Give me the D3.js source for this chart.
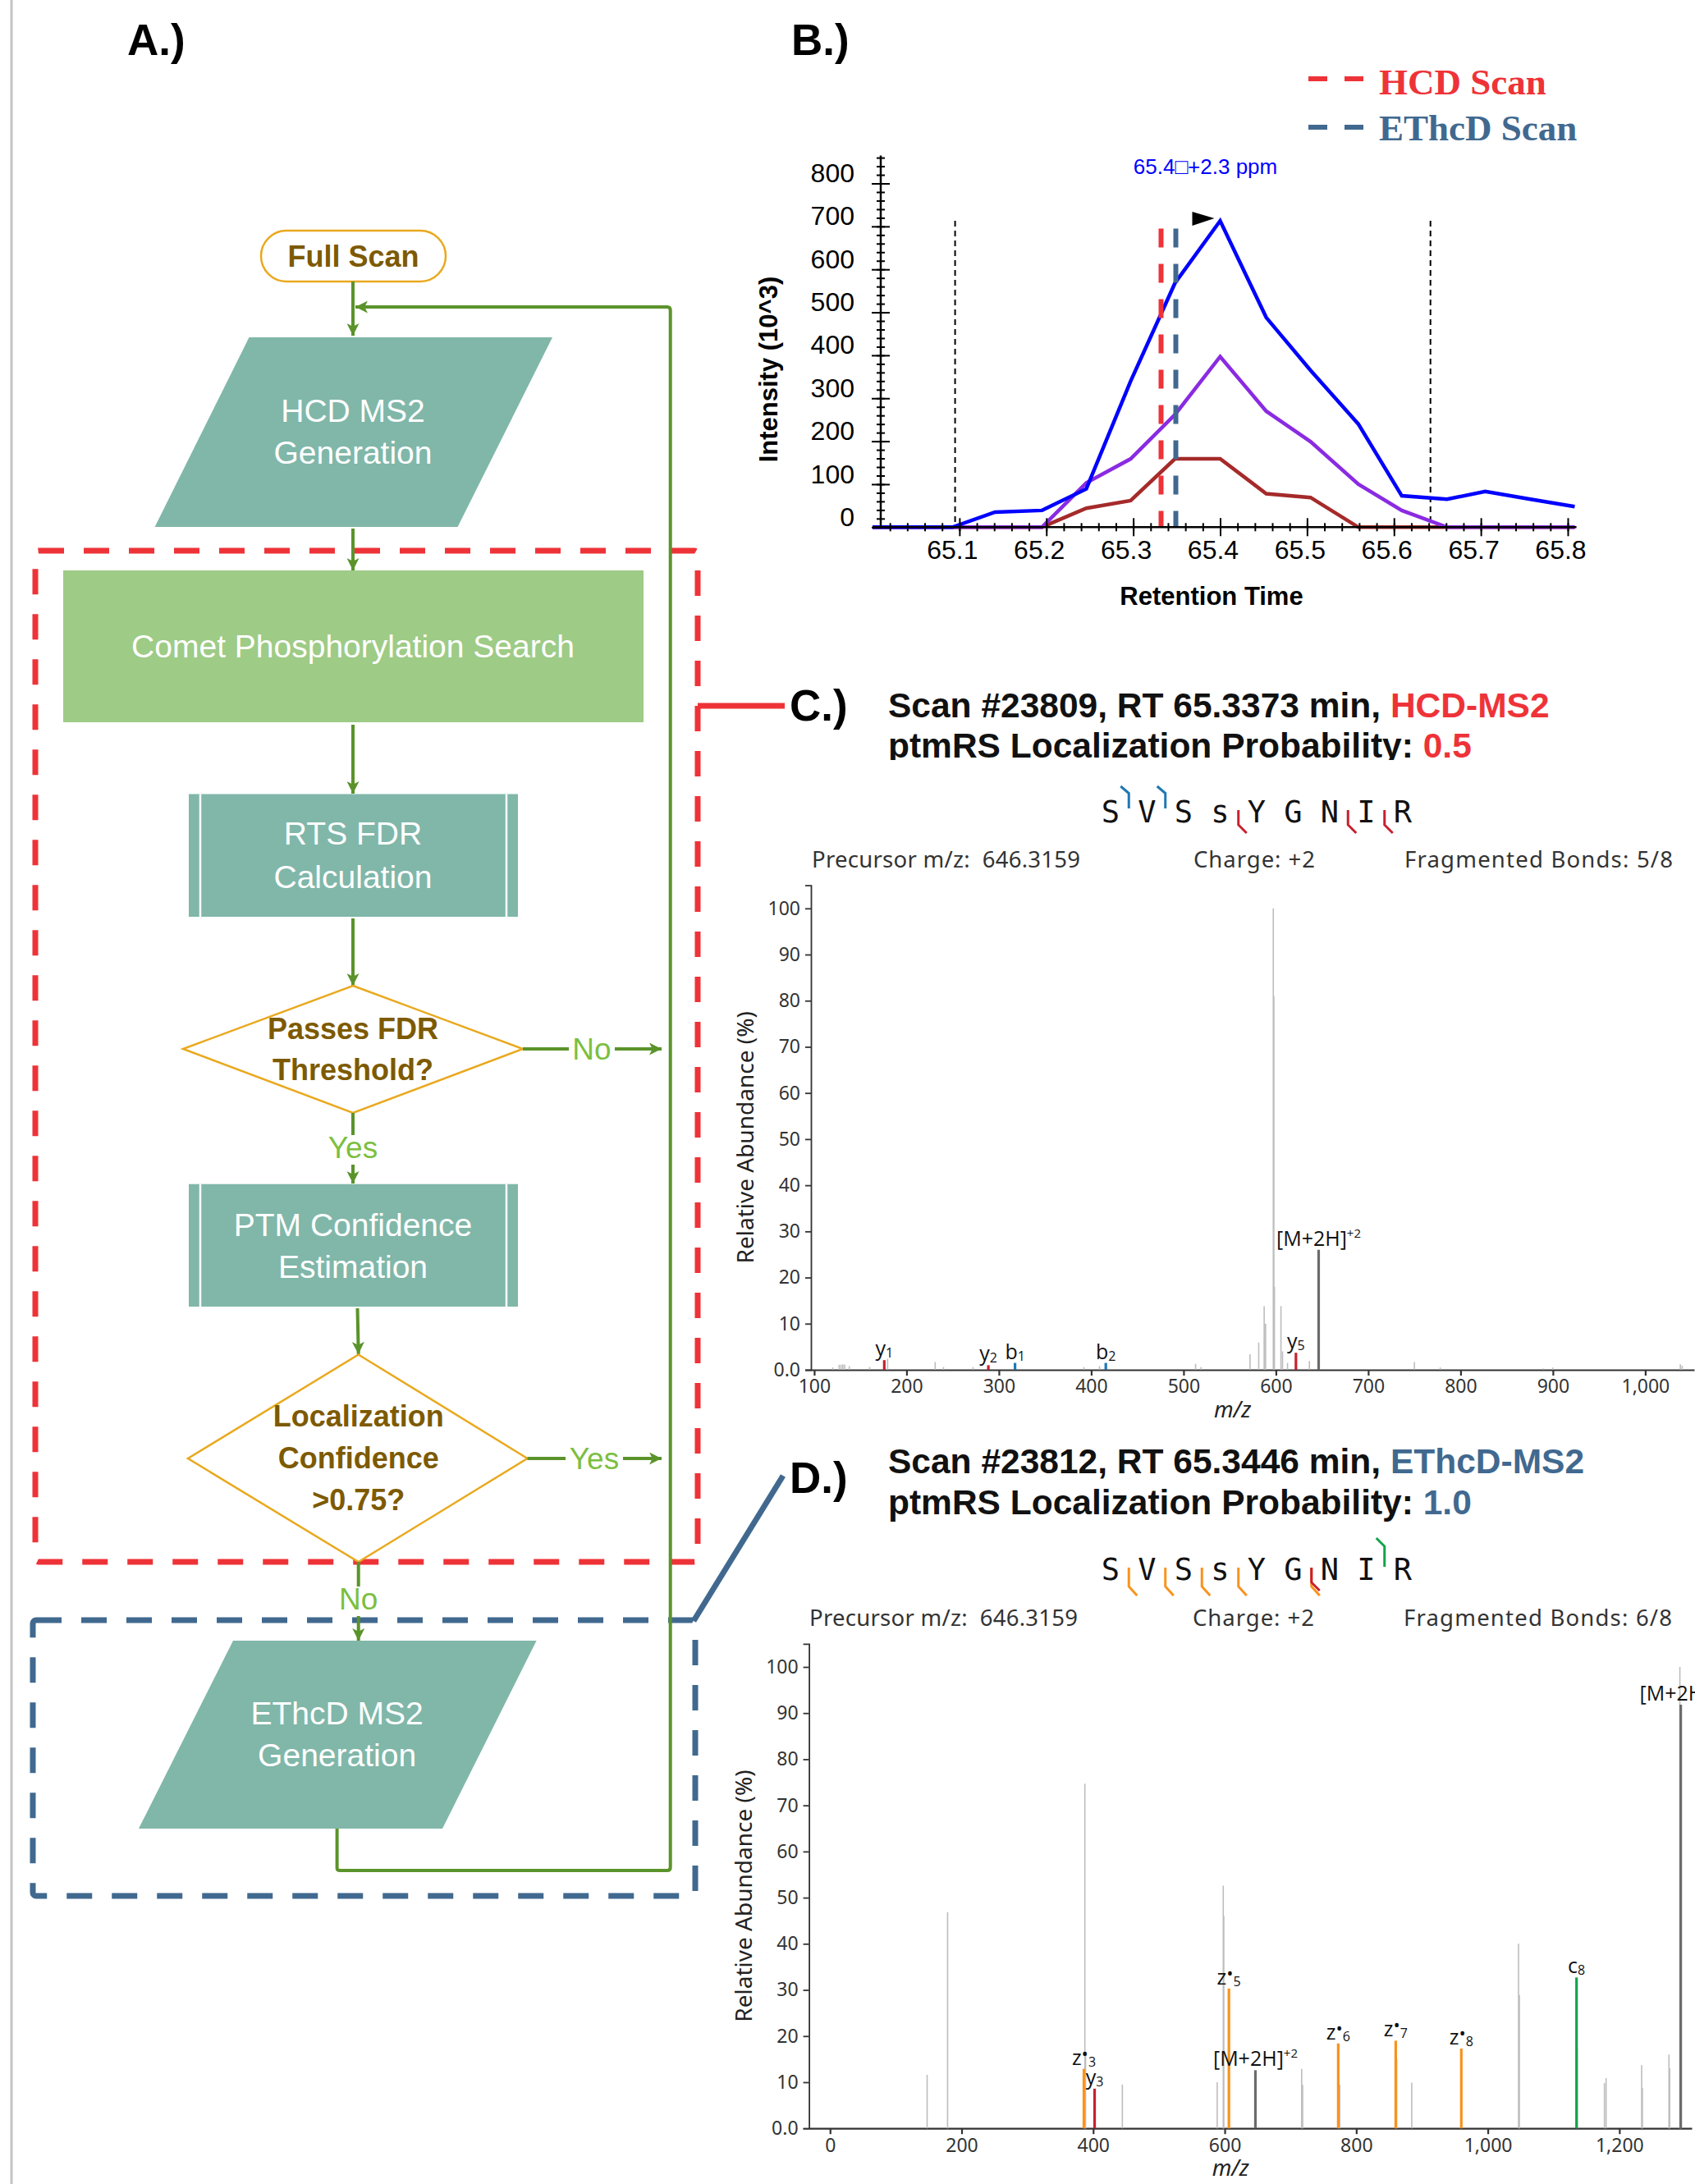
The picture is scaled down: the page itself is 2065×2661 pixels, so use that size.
<!DOCTYPE html>
<html>
<head>
<meta charset="utf-8">
<script src="https://cdn.jsdelivr.net/npm/d3@7"></script>
<style>
  body { margin: 0; background: #fff; }
</style>
</head>
<body>
<div id="figure"></div>
<script>
"use strict";

// ---------- B.) extracted ion chromatogram ----------
const scanTimes = [65.000, 65.045, 65.092, 65.141, 65.195, 65.246, 65.297, 65.348, 65.400,
                   65.453, 65.504, 65.559, 65.609, 65.661, 65.705, 65.757, 65.808];
const xicBlue   = [0, 0, 0, 35, 39, 89, 340, 568, 713, 488, 365, 240, 73, 65, 83, 65, 48];
const xicPurple = [0, 0, 0, 0, 0, 103, 159, 262, 397, 270, 199, 100, 39, 0, 0, 0, 0];
const xicBrown  = [0, 0, 0, 0, 0, 44, 62, 159, 159, 78, 69, 0, 0, 0, 0, 0, 0];
const rtTicks = [65.1, 65.2, 65.3, 65.4, 65.5, 65.6, 65.7, 65.8];
const intensityTicks = [0, 100, 200, 300, 400, 500, 600, 700, 800];
const peakBounds = [65.095, 65.642];
const hcdScanRT = 65.332;
const ethcdScanRT = 65.349;
const apexLabel = "65.4\u25A1+2.3 ppm";

// ---------- peptide ----------
const peptide = ["S", "V", "S", "s", "Y", "G", "N", "I", "R"];

// ---------- C.) HCD-MS2 spectrum ----------
const hcdNoiseMz  = [120, 127, 129, 131, 133, 138, 160, 179.5, 231, 240, 272, 392, 409, 513, 519,
                     572, 581.4, 587.3, 588.8, 597.2, 597.8, 598.4, 605.5, 607.2, 612.6, 636.3,
                     750, 778, 890, 900, 1038, 1040];
const hcdNoiseInt = [0.5, 1.1, 1.1, 1.2, 1.1, 0.8, 0.6, 2.4, 1.7, 0.6, 0.6, 0.6, 0.8, 1.3, 0.6,
                     3.4, 5.9, 13.8, 10, 100, 81, 18, 13.8, 4, 1.5, 1.9,
                     1.7, 0.5, 0.3, 0.5, 1.2, 0.9];
const hcdIonMz   = [175.9, 288.6, 317.5, 415.8, 621.7, 646.3];
const hcdIonInt  = [2.1, 1.0, 1.5, 1.5, 3.7, 26.0];
const hcdIonType = ["y", "y", "b", "b", "y", "M"];
const hcdIonName = ["y", "y", "b", "b", "y", "[M+2H]"];
const hcdIonSub  = ["1", "2", "1", "2", "5", ""];
const hcdIonSup  = ["", "", "", "", "", "+2"];
const hcdFragN = { b: [1, 2] };
const hcdFragC = { y: [1, 2, 5] };

// ---------- D.) EThcD-MS2 spectrum ----------
const ethcdNoiseMz  = [147.6, 178.7, 387.4, 388.5, 444.4, 588.6, 597.8, 598.6, 717, 718.5, 775,
                       861.5, 884.4, 1046.7, 1048, 1136, 1177.3, 1179.8, 1233.9, 1235, 1275.4,
                       1276.5, 1292, 1293.8];
const ethcdNoiseInt = [11.6, 46.8, 74.7, 16.4, 9.5, 10, 52.6, 46, 12.9, 9.4, 9.5,
                       15.1, 9.9, 40, 28.9, 17.3, 9.8, 10.9, 13.7, 8.8, 16,
                       13, 100, 38.7];
const ethcdIonMz   = [385.9, 402.2, 606.4, 646.7, 772.6, 860, 959.7, 1134.9, 1293.3];
const ethcdIonInt  = [12.9, 8.6, 30.3, 12.6, 18.4, 19.0, 17.3, 32.7, 91.8];
const ethcdIonType = ["z", "y", "z", "M", "z", "z", "z", "c", "M"];
const ethcdIonName = ["z", "y", "z", "[M+2H]", "z", "z", "z", "c", "[M+2H]"];
const ethcdIonSub  = ["3", "3", "5", "", "6", "7", "8", "8", ""];
const ethcdIonSup  = ["", "", "", "+2", "", "", "", "", "+\u2022"];
const ethcdFragN = { c: [8] };
const ethcdFragC = { z: [3, 5, 6, 7, 8], y: [3] };

const abundanceTicks = [0, 10, 20, 30, 40, 50, 60, 70, 80, 90, 100];
const hcdMzTicks = [100, 200, 300, 400, 500, 600, 700, 800, 900, 1000];
const ethcdMzTicks = [0, 200, 400, 600, 800, 1000, 1200];

// ---------- colours ----------
const red = "#ee3338";
const steel = "#41698f";
const green = "#5b932b";
const lightGreen = "#7cbf3f";
const gold = "#e9a91e";
const brownText = "#7d5a00";
const teal = "#80b7a9";
const ionColor = { b: "#1f78b4", y: "#c8202f", z: "#f7931e", c: "#13a44a", M: "#6b6b6b" };

const sansFont = "Liberation Sans, Arial, sans-serif";
const specFont = "Noto Sans, sans-serif";

const svg = d3.select("#figure").append("svg")
  .attr("width", 2065)
  .attr("height", 2661)
  .attr("font-family", sansFont)
  .style("display", "block");

svg.append("rect").attr("width", 2065).attr("height", 2661).attr("fill", "#fff");

const defs = svg.append("defs");
defs.append("marker")
  .attr("id", "arrow")
  .attr("viewBox", "0 0 10 10")
  .attr("refX", 10).attr("refY", 5)
  .attr("markerWidth", 17).attr("markerHeight", 15)
  .attr("markerUnits", "userSpaceOnUse")
  .attr("orient", "auto")
  .append("path").attr("d", "M0,0L10,5L0,10L2.5,5z").attr("fill", green);

// gray frame line at the left
svg.append("line").attr("x1", 14).attr("x2", 14).attr("y1", 0).attr("y2", 2661)
  .attr("stroke", "#c4c4c4").attr("stroke-width", 3);

// ================= A.) flowchart =================
const panelLabel = (x, y, t) => svg.append("text").attr("x", x).attr("y", y)
  .attr("font-size", 53).attr("font-weight", "bold").attr("fill", "#000").text(t);

panelLabel(155, 67, "A.)");

const flow = svg.append("g");

function arrow(x1, y1, x2, y2) {
  flow.append("line").attr("x1", x1).attr("y1", y1).attr("x2", x2).attr("y2", y2)
    .attr("stroke", green).attr("stroke-width", 4).attr("marker-end", "url(#arrow)");
}
function lines(x, baselines, texts, opts) {
  texts.forEach((t, i) => {
    flow.append("text").attr("x", x).attr("y", baselines[i])
      .attr("text-anchor", "middle")
      .attr("font-size", opts.size)
      .attr("font-weight", opts.bold ? "bold" : "normal")
      .attr("fill", opts.fill)
      .text(t);
  });
}
function boxedLabel(x, y, t, w) {
  flow.append("rect").attr("x", x - w / 2).attr("y", y - 28).attr("width", w).attr("height", 36).attr("fill", "#fff");
  flow.append("text").attr("x", x).attr("y", y).attr("text-anchor", "middle")
    .attr("font-size", 37).attr("fill", lightGreen).text(t);
}

// dashed group boxes
flow.append("rect").attr("x", 43).attr("y", 671).attr("width", 807).attr("height", 1232)
  .attr("fill", "none").attr("stroke", red).attr("stroke-width", 7).attr("stroke-dasharray", "31,24").attr("rx", 4);
flow.append("rect").attr("x", 40).attr("y", 1974).attr("width", 807).attr("height", 336)
  .attr("fill", "none").attr("stroke", steel).attr("stroke-width", 7).attr("stroke-dasharray", "31,24").attr("rx", 4);

// loop back line
flow.append("path")
  .attr("d", "M410.6,2228 V2276 Q410.6,2279 414,2279 H813 Q816.7,2279 816.7,2275 V378 Q816.7,374 813,374 H433")
  .attr("fill", "none").attr("stroke", green).attr("stroke-width", 4).attr("marker-end", "url(#arrow)");

// Full Scan
flow.append("rect").attr("x", 318).attr("y", 281).attr("width", 225).attr("height", 62).attr("rx", 31)
  .attr("fill", "#fff").attr("stroke", gold).attr("stroke-width", 2.5);
lines(430.5, [325], ["Full Scan"], { size: 36, bold: true, fill: brownText });
arrow(430, 343, 430, 409);

// HCD MS2 generation
flow.append("polygon").attr("points", "303.5,411 673,411 557.6,642 188.6,642").attr("fill", teal);
lines(430, [514, 565], ["HCD MS2", "Generation"], { size: 39, fill: "#fff" });
arrow(430, 644, 430, 695);

// Comet search
flow.append("rect").attr("x", 77).attr("y", 695).attr("width", 707).attr("height", 185).attr("fill", "#9ecb86");
lines(430, [801], ["Comet Phosphorylation Search"], { size: 39, fill: "#fff" });
arrow(430, 883, 430, 967);

// predefined-process boxes
function processBox(y, h, texts, baselines) {
  flow.append("rect").attr("x", 230).attr("y", y).attr("width", 401).attr("height", h).attr("fill", teal);
  [244, 617].forEach(x => flow.append("line").attr("x1", x).attr("x2", x).attr("y1", y).attr("y2", y + h)
    .attr("stroke", "#fff").attr("stroke-width", 2.5));
  lines(430, baselines, texts, { size: 39, fill: "#fff" });
}
processBox(967.5, 149.5, ["RTS FDR", "Calculation"], [1029, 1082]);
arrow(430, 1119, 430, 1201);

// decision 1
flow.append("polygon").attr("points", "430,1201 637,1278 430,1356 223,1278")
  .attr("fill", "#fff").attr("stroke", gold).attr("stroke-width", 2.5);
lines(430, [1266, 1316], ["Passes FDR", "Threshold?"], { size: 36, bold: true, fill: brownText });
arrow(637, 1278, 806, 1278);
boxedLabel(721, 1291, "No", 56);
arrow(430, 1356, 430, 1442);
boxedLabel(430, 1411, "Yes", 70);

processBox(1442.7, 149.3, ["PTM Confidence", "Estimation"], [1506, 1557]);
arrow(435.5, 1594, 436.7, 1650);

// decision 2
flow.append("polygon").attr("points", "436.7,1650.5 642.5,1777 436.7,1903 229,1777")
  .attr("fill", "#fff").attr("stroke", gold).attr("stroke-width", 2.5);
lines(436.7, [1738, 1789, 1840], ["Localization", "Confidence", ">0.75?"], { size: 36, bold: true, fill: brownText });
arrow(642.5, 1777, 806, 1777);
boxedLabel(724, 1790, "Yes", 70);
arrow(436.7, 1903, 436.7, 1999);
boxedLabel(436.7, 1961, "No", 56);

// EThcD generation
flow.append("polygon").attr("points", "284,1999 653.6,1999 539,2228 169,2228").attr("fill", teal);
lines(410.6, [2101, 2152], ["EThcD MS2", "Generation"], { size: 39, fill: "#fff" });

// connectors to spectra
svg.append("line").attr("x1", 850).attr("y1", 860).attr("x2", 956).attr("y2", 860)
  .attr("stroke", red).attr("stroke-width", 7);
svg.append("line").attr("x1", 954).attr("y1", 1798).attr("x2", 845).attr("y2", 1975)
  .attr("stroke", steel).attr("stroke-width", 7);

// ================= B.) chromatogram =================
panelLabel(964, 67, "B.)");

const xB = d3.scaleLinear().domain([65.0, 65.8]).range([1063, 1910]);
const yB = d3.scaleLinear().domain([0, 800]).range([642.3, 223.5]);
const axB = 1073;
const gB = svg.append("g");

const xic = (values, color) => {
  const line = d3.line().x((d, i) => xB(scanTimes[i])).y(d => yB(d));
  gB.append("path").datum(values).attr("d", line)
    .attr("fill", "none").attr("stroke", color).attr("stroke-width", 4.5).attr("stroke-linejoin", "miter");
};

// boundaries
const apex = d3.max(xicBlue);
peakBounds.forEach(t => gB.append("line")
  .attr("x1", xB(t)).attr("x2", xB(t)).attr("y1", yB(apex)).attr("y2", yB(0))
  .attr("stroke", "#000").attr("stroke-width", 2).attr("stroke-dasharray", "7,5"));

xic(xicBrown, "#a52a2a");
xic(xicPurple, "#8a2be2");
xic(xicBlue, "#0000ff");

// scan markers
[[hcdScanRT, red], [ethcdScanRT, steel]].forEach(([t, c]) => gB.append("line")
  .attr("x1", xB(t)).attr("x2", xB(t)).attr("y1", yB(695)).attr("y2", yB(0))
  .attr("stroke", c).attr("stroke-width", 6).attr("stroke-dasharray", "23,20"));

// axes: crossing ticks
const minorX = d3.range(1, 41).map(i => 65 + i * 0.02);
const minorY = d3.range(20, 861, 20);
const noDomain = g => g.select(".domain").remove();
const tickStyle = g => g.selectAll("line").attr("stroke", "#000").attr("stroke-width", 2);

gB.append("g").attr("transform", `translate(0,${yB(0) - 5})`)
  .call(d3.axisBottom(xB).tickValues(minorX).tickSize(10).tickFormat(""))
  .call(noDomain).call(tickStyle);
gB.append("g").attr("transform", `translate(0,${yB(0) - 11})`)
  .call(d3.axisBottom(xB).tickValues(rtTicks).tickSize(22).tickFormat(""))
  .call(noDomain).call(tickStyle);
gB.append("g").attr("transform", `translate(${axB + 5},0)`)
  .call(d3.axisLeft(yB).tickValues(minorY).tickSize(10).tickFormat(""))
  .call(noDomain).call(tickStyle);
gB.append("g").attr("transform", `translate(${axB + 11},0)`)
  .call(d3.axisLeft(yB).tickValues(intensityTicks).tickSize(22).tickFormat(""))
  .call(noDomain).call(tickStyle);

gB.append("line").attr("x1", 1063).attr("x2", xB(65.81)).attr("y1", yB(0)).attr("y2", yB(0))
  .attr("stroke", "#000").attr("stroke-width", 2.5);
gB.append("line").attr("x1", axB).attr("x2", axB).attr("y1", yB(0)).attr("y2", yB(865))
  .attr("stroke", "#000").attr("stroke-width", 2.5);

// tick labels
gB.append("g").attr("transform", `translate(0,${yB(0)})`)
  .call(d3.axisBottom(xB).tickValues(rtTicks).tickSize(0).tickPadding(16).tickFormat(d3.format(".1f")))
  .call(noDomain)
  .call(g => g.selectAll("text").attr("x", -9).attr("font-size", 32).attr("fill", "#000")
    .attr("font-family", sansFont));
gB.append("g").attr("transform", `translate(${axB},0)`)
  .call(d3.axisLeft(yB).tickValues(intensityTicks).tickSize(0).tickPadding(32))
  .call(noDomain)
  .call(g => g.selectAll("text").attr("dy", "-0.06em").attr("font-size", 32).attr("fill", "#000")
    .attr("font-family", sansFont));

gB.append("text").attr("transform", `translate(947,450) rotate(-90)`).attr("text-anchor", "middle")
  .attr("font-size", 31).attr("font-weight", "bold").text("Intensity (10^3)");
gB.append("text").attr("x", 1476).attr("y", 737).attr("text-anchor", "middle")
  .attr("font-size", 31).attr("font-weight", "bold").text("Retention Time");

// apex annotation
const apexIdx = xicBlue.indexOf(apex);
const ax = xB(scanTimes[apexIdx]), ay = yB(apex);
gB.append("path").attr("d", `M${ax - 34},${ay - 11} L${ax - 7},${ay - 3} L${ax - 34},${ay + 6} Z`).attr("fill", "#000");
gB.append("text").attr("x", ax - 18).attr("y", 212).attr("text-anchor", "middle")
  .attr("font-size", 26).attr("fill", "#0000ff").text(apexLabel);

// legend
[["HCD Scan", red, 96, 115], ["EThcD Scan", steel, 155, 170.5]].forEach(([t, c, ly, by]) => {
  gB.append("line").attr("x1", 1594).attr("x2", 1661).attr("y1", ly).attr("y2", ly)
    .attr("stroke", c).attr("stroke-width", 6).attr("stroke-dasharray", "23,21");
  gB.append("text").attr("x", 1680).attr("y", by).attr("font-size", 45).attr("font-weight", "bold")
    .attr("font-family", "Liberation Serif, Times New Roman, serif").attr("fill", c).text(t);
});

// ================= spectra =================
function spectrum(o) {
  const g = svg.append("g");
  panelLabel(962, o.labelY, o.panel);

  // title
  const clipId = "clip" + o.panel[0];
  defs.append("clipPath").attr("id", clipId).append("rect")
    .attr("x", 1000).attr("y", o.titleY - 60).attr("width", 1065).attr("height", 50 + 60 + o.clipBottom);
  const tg = g.append("g").attr("clip-path", `url(#${clipId})`);
  const t1 = tg.append("text").attr("x", 1082).attr("y", o.titleY).attr("font-size", 42.5).attr("font-weight", "bold").attr("fill", "#111");
  t1.append("tspan").text(o.title1);
  t1.append("tspan").attr("fill", o.accent).text(o.method);
  const t2 = tg.append("text").attr("x", 1082).attr("y", o.titleY + 49.5).attr("font-size", 42.5).attr("font-weight", "bold").attr("fill", "#111");
  t2.append("tspan").text("ptmRS Localization Probability: ");
  t2.append("tspan").attr("fill", o.accent).text(o.prob);

  // peptide with fragment hooks
  const px = i => 1353 + i * 44.5;
  const base = o.pepY;
  peptide.forEach((aa, i) => g.append("text").attr("x", px(i)).attr("y", base).attr("text-anchor", "middle")
    .attr("font-family", "DejaVu Sans Mono, monospace").attr("font-size", 37).attr("fill", "#111").text(aa));
  const hookN = { b: [-44, -35.5, -17], c: [-51, -41, -16] };
  const hookC = { y: [-15, 3, 13], z: [-15, 8, 19] };
  Object.entries(o.fragN).forEach(([type, ns]) => ns.forEach(n => {
    const x = (px(n - 1) + px(n)) / 2, h = hookN[type];
    g.append("path").attr("d", `M${x - 10},${base + h[0]} L${x},${base + h[1]} V${base + h[2]}`)
      .attr("fill", "none").attr("stroke", ionColor[type]).attr("stroke-width", 3);
  }));
  Object.entries(o.fragC).forEach(([type, ns]) => ns.forEach(n => {
    const k = peptide.length - n;
    const x = (px(k - 1) + px(k)) / 2, h = hookC[type];
    g.append("path").attr("d", `M${x},${base + h[0]} V${base + h[1]} L${x + 10},${base + h[2]}`)
      .attr("fill", "none").attr("stroke", ionColor[type]).attr("stroke-width", 3);
  }));

  // header info
  [[o.infoX[0], "Precursor m/z:\u00a0\u00a0646.3159", 327], [o.infoX[1], "Charge: +2", 148], [o.infoX[2], o.bonds, 327]]
    .forEach(([x, t, w]) =>
      g.append("text").attr("x", x).attr("y", o.infoY).attr("font-family", specFont)
        .attr("font-size", 27.5).attr("fill", "#333")
        .attr("textLength", w).attr("lengthAdjust", "spacing").text(t));

  // scales and axes
  const x = d3.scaleLinear().domain(o.xDomain).range(o.xRange);
  const y = d3.scaleLinear().domain([0, 105]).range(o.yRange);
  const axisFont = g2 => g2.selectAll("text").attr("font-family", specFont).attr("font-size", 23).attr("fill", "#333");

  g.append("g").attr("transform", `translate(${o.xRange[0]},0)`)
    .call(d3.axisLeft(y).tickValues(abundanceTicks).tickSize(7).tickPadding(6)
      .tickFormat(d => d === 0 ? "0.0" : d3.format("d")(d)))
    .call(axisFont)
    .call(g2 => g2.selectAll("path,line").attr("stroke", "#333").attr("stroke-width", 1.8));
  g.append("g").attr("transform", `translate(0,${o.yRange[0]})`)
    .call(d3.axisBottom(x).tickValues(o.mzTicks).tickSize(7).tickSizeOuter(0).tickPadding(5).tickFormat(d3.format(",")))
    .call(axisFont)
    .call(g2 => g2.selectAll("path,line").attr("stroke", "#333").attr("stroke-width", 2.2));

  g.append("text").attr("transform", `translate(${o.xRange[0] - 70},${(o.yRange[0] + o.yRange[1]) / 2 + 12}) rotate(-90)`)
    .attr("text-anchor", "middle").attr("font-family", specFont).attr("font-size", 28).attr("fill", "#222")
    .text("Relative Abundance (%)");
  g.append("text").attr("x", x(o.mzTitleAt)).attr("y", o.yRange[0] + 58).attr("text-anchor", "middle")
    .attr("font-family", specFont).attr("font-style", "italic").attr("font-size", 27).attr("fill", "#222")
    .text("m/z");

  // peaks
  const peaks = g.append("g");
  peaks.selectAll("line.noise").data(o.noiseMz).enter().append("line")
    .attr("x1", d => x(d)).attr("x2", d => x(d))
    .attr("y1", y(0)).attr("y2", (d, i) => y(o.noiseInt[i]))
    .attr("stroke", "#bdbdbd").attr("stroke-width", 1.6);
  peaks.selectAll("line.ion").data(o.ionMz).enter().append("line")
    .attr("x1", d => x(d)).attr("x2", d => x(d))
    .attr("y1", y(0)).attr("y2", (d, i) => y(o.ionInt[i]))
    .attr("stroke", (d, i) => ionColor[o.ionType[i]]).attr("stroke-width", 3.2);

  o.ionMz.forEach((mz, i) => {
    const lab = peaks.append("text").attr("x", x(mz)).attr("y", y(o.ionInt[i]) - 5)
      .attr("text-anchor", "middle").attr("font-family", "Open Sans, sans-serif").attr("font-size", 25).attr("fill", "#111");
    lab.append("tspan").text(o.ionName[i]);
    if (o.ionType[i] === "z") lab.append("tspan").attr("dy", -6).attr("font-size", 22).text("\u2022");
    if (o.ionSub[i]) lab.append("tspan").attr("dy", o.ionType[i] === "z" ? 8 : 2).attr("font-size", 16).text(o.ionSub[i]);
    if (o.ionSup[i]) lab.append("tspan").attr("dy", -10).attr("font-size", 15).text(o.ionSup[i]);
  });
}

spectrum({
  panel: "C.)", labelY: 878, titleY: 873.5, clipBottom: 2.5,
  title1: "Scan #23809, RT 65.3373 min, ", method: "HCD-MS2", prob: "0.5", accent: red,
  pepY: 1002, fragN: hcdFragN, fragC: hcdFragC,
  infoY: 1057, infoX: [989, 1454, 1711], bonds: "Fragmented Bonds: 5/8",
  xDomain: [96.5, 1053], xRange: [988, 2064], yRange: [1669, 1078.7], mzTicks: hcdMzTicks, mzTitleAt: 553,
  noiseMz: hcdNoiseMz, noiseInt: hcdNoiseInt,
  ionMz: hcdIonMz, ionInt: hcdIonInt, ionType: hcdIonType, ionName: hcdIonName, ionSub: hcdIonSub, ionSup: hcdIonSup
});

spectrum({
  panel: "D.)", labelY: 1819, titleY: 1795, clipBottom: 30,
  title1: "Scan #23812, RT 65.3446 min, ", method: "EThcD-MS2", prob: "1.0", accent: steel,
  pepY: 1925, fragN: ethcdFragN, fragC: ethcdFragC,
  infoY: 1981, infoX: [986, 1453, 1710], bonds: "Fragmented Bonds: 6/8",
  xDomain: [-32, 1310], xRange: [985.6, 2061], yRange: [2593.2, 2002.9], mzTicks: ethcdMzTicks, mzTitleAt: 609,
  noiseMz: ethcdNoiseMz, noiseInt: ethcdNoiseInt,
  ionMz: ethcdIonMz, ionInt: ethcdIonInt, ionType: ethcdIonType, ionName: ethcdIonName, ionSub: ethcdIonSub, ionSup: ethcdIonSup
});
</script>
</body>
</html>
